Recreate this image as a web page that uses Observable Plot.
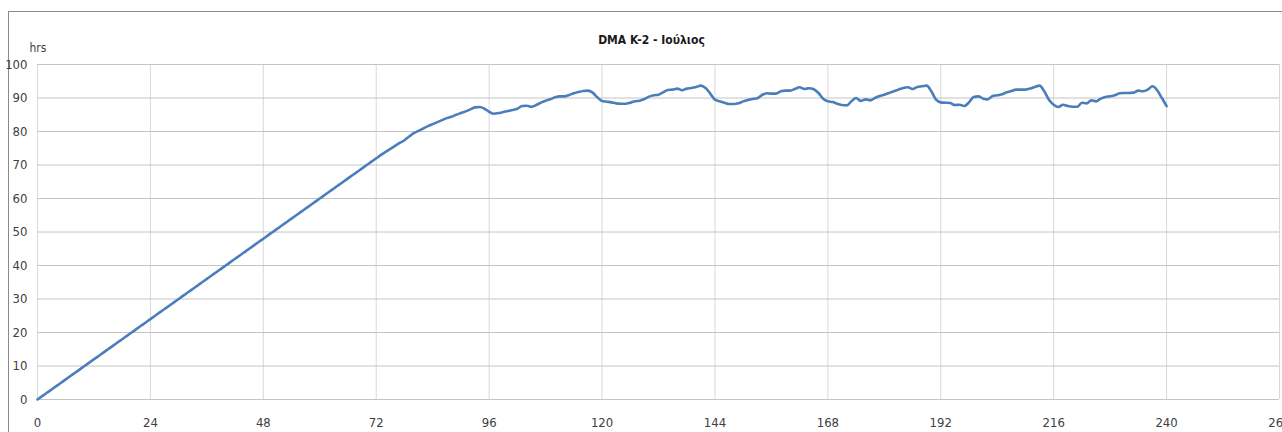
<!DOCTYPE html>
<html>
<head>
<meta charset="utf-8">
<script src="https://cdn.jsdelivr.net/npm/d3@7"></script>
<script src="https://cdn.jsdelivr.net/npm/@observablehq/plot@0.6"></script>
<style>
  html, body { margin: 0; padding: 0; background: #ffffff; }
  #wrap { position: relative; width: 1282px; height: 432px; overflow: hidden; }
  #frame { position: absolute; left: 8px; top: 11px; width: 1400px; height: 500px;
           border-top: 1.5px solid #8a8a8a; border-left: 1.5px solid #8a8a8a; box-sizing: border-box; }
  #chart { position: absolute; left: 0; top: 0; }
  #chart svg { font-stretch: condensed; }
</style>
</head>
<body>
<div id="wrap"><div id="frame"></div><div id="chart"></div></div>
<script>
// Chart text
const title = "DMA K-2 - Ιούλιος";
const yUnit = "hrs";

// Axis ticks
const xTicks = [0, 24, 48, 72, 96, 120, 144, 168, 192, 216, 240, 264];
const yTicks = [0, 10, 20, 30, 40, 50, 60, 70, 80, 90, 100];

// Hourly values, hour 0 to hour 240
const values = [
  0, 1, 2, 3, 4, 5, 6, 7, 8, 9,
  10, 11, 12, 13, 14, 15, 16, 17, 18, 19,
  20, 21, 22, 23, 24, 25, 26, 27, 28, 29,
  30, 31, 32, 33, 34, 35, 36, 37, 38, 39,
  40, 41, 42, 43, 44, 45, 46, 47, 48, 49,
  50, 51, 52, 53, 54, 55, 56, 57, 58, 59,
  60, 61, 62, 63, 64, 65, 66, 67, 68, 69,
  70, 71, 72, 73, 73.9, 74.8, 75.7, 76.6, 77.4, 78.5,
  79.5, 80.2, 80.9, 81.6, 82.2, 82.8, 83.4, 84.0, 84.4, 85.0,
  85.5, 86.0, 86.6, 87.2, 87.3, 86.8, 85.9, 85.3, 85.5, 85.8,
  86.1, 86.4, 86.8, 87.6, 87.7, 87.4, 87.9, 88.6, 89.2, 89.6,
  90.2, 90.5, 90.5, 90.9, 91.4, 91.8, 92.1, 92.2, 91.6, 90.2,
  89.1, 88.9, 88.7, 88.4, 88.3, 88.3, 88.6, 89.0, 89.2, 89.7,
  90.4, 90.8, 91.0, 91.7, 92.4, 92.5, 92.8, 92.3, 92.8, 93.0,
  93.3, 93.7, 93.0, 91.3, 89.5, 89.0, 88.6, 88.2, 88.2, 88.4,
  89.0, 89.4, 89.7, 89.9, 90.9, 91.4, 91.3, 91.3, 92.0, 92.2,
  92.2, 92.7, 93.2, 92.7, 92.9, 92.6, 91.5, 89.8, 89.0, 88.8,
  88.3, 87.9, 87.8, 89.0, 90.0, 89.1, 89.6, 89.3, 90.0, 90.6,
  91.0, 91.5, 92.0, 92.5, 93.0, 93.2, 92.7, 93.3, 93.5, 93.7,
  92.0, 89.5, 88.7, 88.6, 88.5, 87.9, 88.0, 87.6, 88.7, 90.3,
  90.5, 89.8, 89.6, 90.6, 90.8, 91.1, 91.7, 92.1, 92.5, 92.5,
  92.5, 92.8, 93.3, 93.7, 92.0, 89.5, 88.0, 87.3, 88.0, 87.6,
  87.4, 87.4, 88.6, 88.4, 89.3, 89.0, 89.8, 90.3, 90.5, 90.8,
  91.4, 91.5, 91.5, 91.6, 92.2, 92.0, 92.5, 93.5, 92.3, 90.0,
  87.6
];

const series = values.map((v, i) => ({hour: i, value: v}));

const font = "'DejaVu Sans Condensed', 'DejaVu Sans', sans-serif";

const chart = Plot.plot({
  width: 1282,
  height: 432,
  marginLeft: 37,
  marginRight: 3,
  marginTop: 64,
  marginBottom: 33,
  style: {fontFamily: font, fontSize: "13px", color: "#404040", background: "transparent", overflow: "hidden"},
  x: {domain: [0, 264], ticks: xTicks, tickSize: 0, tickPadding: 18, label: null},
  y: {domain: [0, 100], ticks: yTicks, tickSize: 0, tickPadding: 10, label: null},
  marks: [
    Plot.ruleX(xTicks, {stroke: "#d9d9d9", strokeWidth: 1}),
    Plot.ruleY(yTicks, {stroke: "#c4c4c4", strokeWidth: 1}),
    Plot.line(series, {x: "hour", y: "value", stroke: "#4a7ebb", strokeWidth: 2.6, curve: "monotone-x"}),
    Plot.text([title], {frameAnchor: "top", dx: -7, dy: -29, fontWeight: "bold", fontSize: 12, fill: "#1a1a1a"}),
    Plot.text([yUnit], {frameAnchor: "top-left", textAnchor: "start", dx: -8, dy: -21, fontSize: 12, fill: "#404040"})
  ]
});

document.getElementById("chart").appendChild(chart);
</script>
</body>
</html>
